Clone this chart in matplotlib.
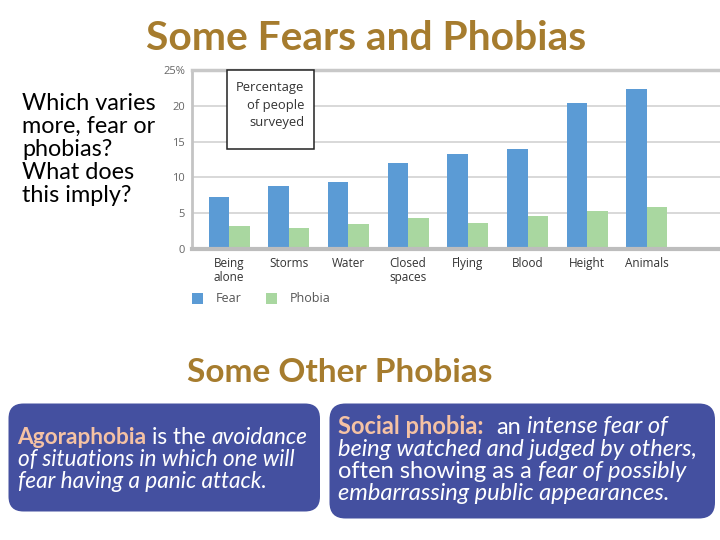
import matplotlib
matplotlib.use("Agg")
import matplotlib.pyplot as plt
import numpy as np
from matplotlib.patches import Rectangle, FancyBboxPatch

# ---------------- data ----------------
categories = ["Being\nalone", "Storms", "Water", "Closed\nspaces", "Flying", "Blood", "Height", "Animals"]
fear = [7.3, 8.8, 9.4, 12.0, 13.2, 13.9, 20.4, 22.3]
phobia = [3.2, 3.0, 3.5, 4.3, 3.6, 4.6, 5.3, 5.8]
yticks = [0, 5, 10, 15, 20, 25]
ytick_labels = ["0", "5", "10", "15", "20", "25%"]
series_names = ["Fear", "Phobia"]

FEAR_C = "#5b9bd5"
PHOB_C = "#a9d7a0"
GOLD = "#a67c2e"
BOXC = "#4450a0"
SALMON = "#f5c2a4"
CHART_FONT = "Open Sans"
PPT_FONT = "Lato"

W, H = 720, 540
fig = plt.figure(figsize=(W / 100, H / 100), dpi=100)
fig.patch.set_facecolor("white")

# ---------------- chart ----------------
ax_l, ax_r, ax_t, ax_b = 192, 720, 70, 249
ax = fig.add_axes([ax_l / W, 1 - ax_b / H, (ax_r - ax_l) / W, (ax_b - ax_t) / H])
pitch = 59.7
x0px = 229
x = np.arange(len(categories))
bw = 20.5 / pitch
b1 = ax.bar(x - bw / 2, fear, bw, color=FEAR_C, zorder=3, label=series_names[0])
b2 = ax.bar(x + bw / 2, phobia, bw, color=PHOB_C, zorder=3, label=series_names[1])
ax.set_xlim((ax_l - x0px) / pitch, (ax_r - x0px) / pitch)
ax.set_ylim(0, 25)
ax.set_yticks(yticks)
ax.set_yticklabels(ytick_labels, fontsize=8, color="#666666", family=CHART_FONT)
ax.set_xticks(x)
ax.set_xticklabels(categories, fontsize=8.5, color="#333333", family=CHART_FONT, linespacing=1.1)
ax.tick_params(axis="both", length=0)
ax.tick_params(axis="y", pad=5)
ax.tick_params(axis="x", pad=6)
ax.grid(axis="y", color="#d6d6d6", lw=1.3, zorder=0)
ax.set_axisbelow(True)
ax.spines["right"].set_visible(False)
ax.spines["left"].set_color("#c4c4c4")
ax.spines["left"].set_linewidth(2)
ax.spines["top"].set_color("#c8c8c8")
ax.spines["top"].set_linewidth(2.5)
ax.spines["bottom"].set_color("#bdbdbd")
ax.spines["bottom"].set_linewidth(3)
ax.spines["bottom"].set_zorder(4)

leg = fig.legend(handles=[b1, b2], labels=series_names, loc="upper left",
                 bbox_to_anchor=(191.5 / W, 1 - 292.5 / H), ncol=2, frameon=False,
                 handlelength=0.95, handleheight=0.95, handletextpad=1.0,
                 columnspacing=1.9, borderpad=0, borderaxespad=0,
                 prop={"family": CHART_FONT, "size": 9})
for t in leg.get_texts():
    t.set_color("#555555")

# ---------------- overlay (pixel coordinates) ----------------
ov = fig.add_axes([0, 0, 1, 1], zorder=10)
ov.set_xlim(0, W)
ov.set_ylim(H, 0)
ov.axis("off")
ov.patch.set_alpha(0)

fig.canvas.draw()
R = fig.canvas.get_renderer()


def width_of(s, **kw):
    t = ov.text(0, 0, s, **kw)
    w = t.get_window_extent(renderer=R).width
    t.remove()
    return w


def fit_size(s, target, **kw):
    w = width_of(s, fontsize=20, **kw)
    return 20 * target / w


def style_kw(kw):
    return {k: v for k, v in kw.items() if k in ("fontweight", "fontstyle")}


def space_w(fs, **kw):
    return width_of("a a", fontsize=fs, **kw) - width_of("aa", fontsize=fs, **kw)


def draw_line(segs, x, y, fs, family, dry=False):
    cur = x
    for txt, kw in segs:
        lead = len(txt) - len(txt.lstrip(" "))
        core = txt.strip(" ")
        trail = len(txt) - len(txt.rstrip(" "))
        cur += lead * space_w(fs, family=family, **style_kw(kw))
        t = ov.text(cur, y, core, fontsize=fs, family=family, va="baseline", ha="left", **kw)
        cur += t.get_window_extent(renderer=R).width
        if dry:
            t.remove()
        cur += trail * space_w(fs, family=family, **style_kw(kw))
    return cur - x


def fit_line(segs, target, family):
    w = draw_line(segs, 0, 0, 20, family, dry=True)
    return 20 * target / w


# Title
fs_title = fit_size("Some Fears and Phobias", 440, family=PPT_FONT, fontweight="bold")
ov.text(146, 50, "Some Fears and Phobias", fontsize=fs_title, family=PPT_FONT,
        fontweight="bold", color=GOLD, ha="left", va="baseline")

# Question text
q_lines = ["Which varies", "more, fear or", "phobias?", "What does", "this imply?"]
fs_q = fit_size("Which varies", 134, family=PPT_FONT)
for i, ln in enumerate(q_lines):
    ov.text(22, 110 + 23 * i, ln, fontsize=fs_q, family=PPT_FONT, color="black",
            ha="left", va="baseline")

# Percentage box
ov.add_patch(Rectangle((227, 69.5), 87, 79, fc="white", ec="#222222", lw=1.1, zorder=5))
fs_p = fit_size("Percentage", 68, family=CHART_FONT)
for ln, yb in zip(["Percentage", "of people", "surveyed"], [91.5, 109, 126]):
    ov.text(304, yb, ln, fontsize=fs_p, family=CHART_FONT, color="#333333",
            ha="right", va="baseline", zorder=6)

# Subtitle
fs_sub = fit_size("Some Other Phobias", 305, family=PPT_FONT, fontweight="bold")
ov.text(187, 382, "Some Other Phobias", fontsize=fs_sub, family=PPT_FONT,
        fontweight="bold", color=GOLD, ha="left", va="baseline")

# Boxes
ov.add_patch(FancyBboxPatch((8.5, 403.5), 311.5, 108, boxstyle="round,pad=0,rounding_size=15",
                            fc=BOXC, ec="none"))
ov.add_patch(FancyBboxPatch((329.5, 403.5), 385.5, 115, boxstyle="round,pad=0,rounding_size=16",
                            fc=BOXC, ec="none"))

WH = dict(color="white")
IT = dict(color="white", fontstyle="italic")
BD = dict(color=SALMON, fontweight="bold")

left_lines = [
    [("Agoraphobia", BD), (" is the ", WH), ("avoidance", IT)],
    [("of situations in which one will", IT)],
    [("fear having a panic attack.", IT)],
]
right_lines = [
    [("Social phobia:", BD), ("  an ", WH), ("intense fear of", IT)],
    [("being watched and judged by others,", IT)],
    [("often showing as a ", WH), ("fear of possibly", IT)],
    [("embarrassing public appearances.", IT)],
]

fs_left = fit_line(left_lines[0], 291, PPT_FONT)
fs_right = fit_line(right_lines[1], 359, PPT_FONT)
for i, segs in enumerate(left_lines):
    draw_line(segs, 17.5, 444 + 22 * i, fs_left, PPT_FONT)
for i, segs in enumerate(right_lines):
    draw_line(segs, 338.5, 433.5 + 22 * i, fs_right, PPT_FONT)

fig.savefig("out.png", dpi=100, facecolor="white")
